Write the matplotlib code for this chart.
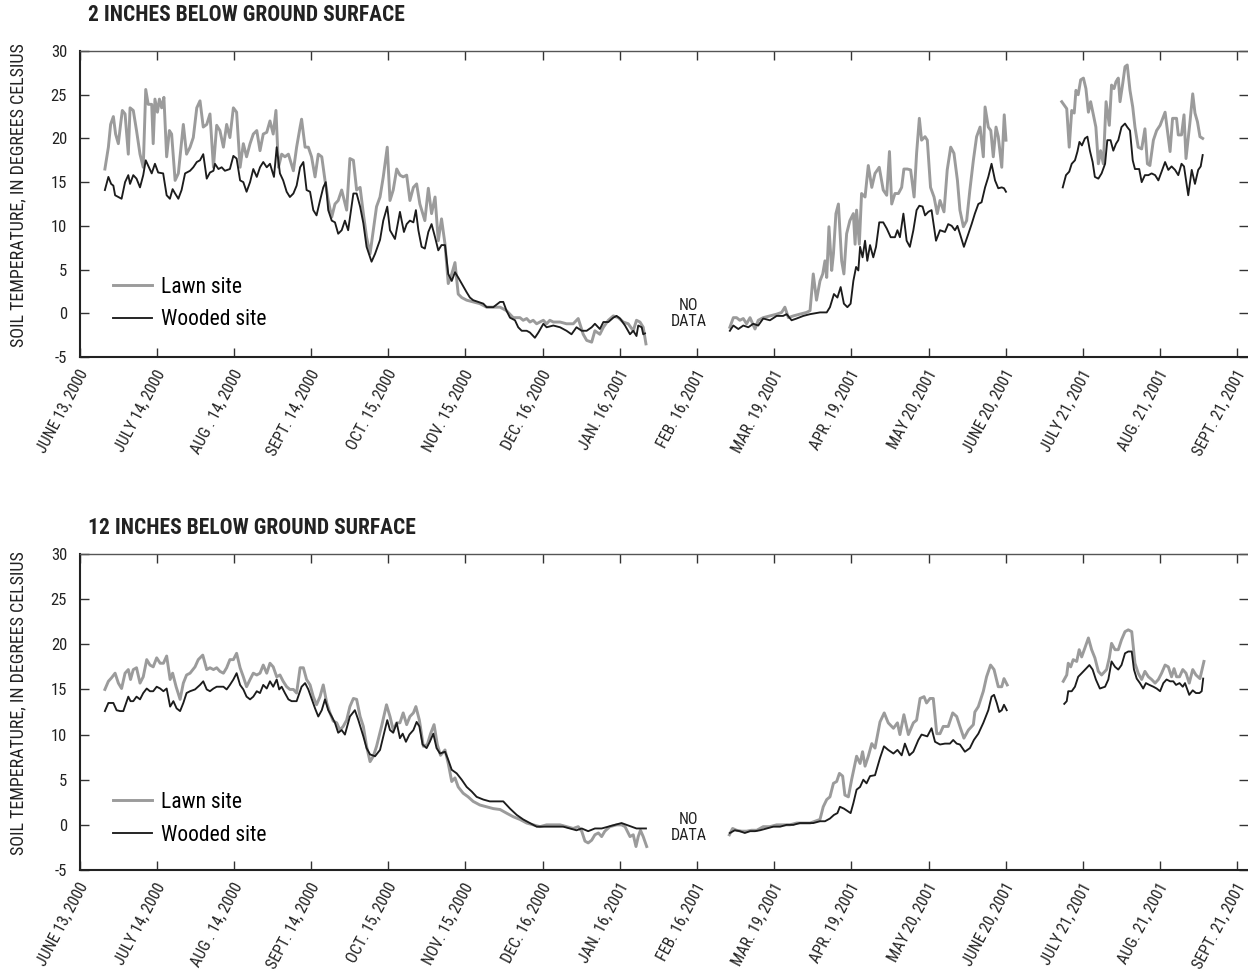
import numpy as np
import matplotlib.pyplot as plt
from matplotlib.transforms import ScaledTranslation

plt.rcParams['font.family'] = ['Roboto Condensed', 'Liberation Sans Narrow', 'Liberation Sans', 'DejaVu Sans']
plt.rcParams['axes.unicode_minus'] = False

# x axis: days after June 13, 2000
tick_days = np.arange(0, 466, 31)
tick_labels = ['JUNE 13, 2000', 'JULY 14, 2000', 'AUG . 14, 2000', 'SEPT. 14, 2000',
               'OCT. 15, 2000', 'NOV. 15, 2000', 'DEC. 16, 2000', 'JAN. 16, 2001',
               'FEB. 16, 2001', 'MAR. 19, 2001', 'APR. 19, 2001', 'MAY 20, 2001',
               'JUNE 20, 2001', 'JULY 21, 2001', 'AUG. 21, 2001', 'SEPT. 21, 2001']
gap_days = [244.5, 383.0]

# ---- 2 inches, lawn site (three segments with data gaps between) ----
top_lawn_days = [
    [10.2, 11.6, 12.5, 13.6, 14.5, 15.6, 16.5, 17.2, 18.3, 19.6, 20.3, 21.6, 22.9, 24.3, 25.6,
     26.6, 27.6, 29.0, 29.6, 30.3, 31.3, 32.1, 33.0, 33.9, 35.0, 36.1, 37.0, 38.4, 39.7, 41.0,
     41.7, 43.0, 44.4, 45.7, 47.1, 48.4, 49.7, 51.1, 52.4, 53.8, 55.1, 56.4, 57.8, 59.1, 60.4,
     61.8, 63.1, 64.5, 65.8, 67.1, 68.5, 69.8, 71.2, 72.5, 73.8, 75.2, 76.5, 77.8, 78.9, 79.9,
     81.2, 82.5, 83.9, 85.9, 87.2, 88.6, 89.2, 90.6, 91.9, 93.2, 94.6, 95.9, 97.3, 98.6, 99.9,
     101.3, 102.6, 103.9, 105.3, 107.3, 108.6, 110.0, 111.3, 112.7, 114.0, 115.3, 116.7, 118.0,
     119.3, 120.7, 122.0, 123.6, 124.7, 126.0, 127.4,
     128.7, 130.0, 131.4, 132.7, 134.1, 135.4, 136.7, 138.7, 140.1, 141.4, 142.8, 144.1, 145.4,
     146.8, 148.1, 149.5, 150.8, 152.1, 153.5, 155.5, 158.1, 160.8, 163.5, 166.2, 168.9, 171.5,
     174.2, 176.9, 178.2, 179.6, 180.9, 182.2, 183.6, 184.9, 186.3, 187.6, 188.9, 190.3, 193.0,
     195.6, 198.3, 200.3, 202.3, 203.7, 205.7, 207.0, 209.0, 210.4, 212.4, 214.4, 216.4, 218.4,
     220.4, 222.4, 223.7, 225.1, 226.4, 227.5],
    [261.2, 262.6, 263.9, 265.2, 266.6, 267.9, 269.3, 271.3, 272.6, 274.6, 277.3, 280.0, 282.0,
     283.3, 284.7, 286.7, 289.3, 292.0, 293.4, 294.7, 296.0,
     297.4, 298.5, 299.4, 300.1, 301.0, 302.1, 302.8, 303.8, 304.8, 306.1, 307.0, 308.1, 309.4,
     310.8, 311.5, 312.1, 313.2, 314.1, 315.5, 316.8, 318.2, 319.5, 321.2, 322.8, 324.2, 325.3,
     326.2, 327.5, 328.9, 330.2, 331.1, 332.5, 333.8, 335.2, 336.2, 337.3, 338.2, 339.6, 340.5,
     341.8, 343.2, 344.5, 345.6, 347.2, 348.5, 349.9, 351.2, 352.6, 353.6, 355.0, 356.3, 357.6,
     359.0, 360.3, 361.7, 363.0, 363.7, 365.0, 366.0, 367.0, 368.1, 369.0, 370.4, 371.4, 372.1],
    [394.5, 396.5, 397.5, 398.5, 399.5, 400.2, 401.1, 402.1, 403.2, 404.2, 405.2, 406.1, 407.2,
     408.2, 409.2, 410.1, 411.2, 412.3, 413.6, 414.5, 415.5, 416.3, 417.2, 417.9, 419.0, 419.9,
     420.8, 421.9, 423.0, 423.9, 425.2, 426.6, 427.9, 428.9, 429.9, 431.3, 432.6, 434.0, 436.0,
     438.0, 439.0, 440.6, 441.3, 442.6, 443.6, 444.4, 446.0, 447.1, 448.0, 449.0, 450.0, 451.1],
]
top_lawn_temp = [
    [16.5, 19, 21.6, 22.5, 20.5, 19.4, 21.6, 23.2, 22.8, 18.2, 23.5, 23.2, 20.9, 18.2, 16.7,
     25.6, 23.9, 23.9, 19.4, 24.5, 23, 24.5, 23.5, 24.7, 17.9, 20.9, 20.5, 15.2, 16, 19.7,
     21.6, 18.2, 19, 20.1, 23.5, 24.3, 21.3, 21.6, 22.8, 16.7, 21.5, 20.9, 19, 21.6, 20.1,
     23.5, 23, 16.7, 19.4, 17.9, 19.4, 20.5, 20.9, 18.6, 20.5, 20.7, 22, 20.5, 23.2, 16.7,
     18.2, 17.9, 18.2, 16.3, 19, 21.3, 22.2, 19, 19, 17.9, 15.6, 18.2, 17.9, 15.2, 12.9,
     11, 12.5, 12.9, 14.1, 11.8, 17.7, 17.5, 14.1, 14.4, 11.4, 8.7, 6.8, 9.5,
     12.2, 13.3, 15.6, 19, 12.9, 14.1, 16.5,
     15.8, 15.6, 15.8, 12.9, 14.4, 14.8, 12.5, 10.6, 14.3, 11.4, 13.3, 8.3, 10.8,
     7.9, 3.4, 4.5, 5.8, 2.2, 1.8, 1.5, 1.3, 1.1, 0.7, 0.7, 0.7, 0.3,
     -0.5, -0.5, -0.8, -0.6, -1.0, -0.8, -1.2, -1.0, -0.8, -1.2, -0.8, -1.0, -1.0,
     -1.2, -1.2, -0.6, -2.4, -3.1, -3.3, -2.0, -2.4, -1.6, -0.8, -0.3, -0.5, -1.0,
     -1.2, -2.0, -0.8, -1.0, -1.6, -3.5],
    [-1.6, -0.5, -0.5, -0.8, -0.6, -1.2, -0.5, -1.8, -0.8, -0.5, -0.3, -0.1, 0.1,
     0.7, -0.5, -0.3, -0.1, 0.1, 0.3, 4.5, 1.5,
     3.7, 4.5, 6.0, 4.1, 9.9, 4.9, 6.8, 11.4, 12.5, 6.0, 4.5, 9.1, 10.6,
     11.4, 7.9, 11.8, 7.9, 13.7, 13.3, 16.9, 14.4, 16.0, 16.7, 14.1, 13.5, 18.5,
     12.5, 13.7, 13.7, 14.4, 16.5, 16.5, 16.4, 13.3, 18.3, 22.3, 19.8, 20.2, 19.8,
     14.4, 13.3, 11.4, 12.9, 11.6, 16.4, 19.0, 18.3, 15.2, 11.8, 9.9, 10.6, 14.1,
     17.5, 20.2, 21.3, 17.9, 23.6, 21.3, 20.9, 17.9, 21.3, 20.2, 16.7, 22.7, 19.8],
    [24.2, 23.4, 19.0, 23.2, 22.9, 25.5, 25.0, 26.7, 26.9, 25.7, 23.0, 24.2, 22.7,
     21.3, 17.1, 18.6, 17.1, 24.2, 21.5, 26.1, 25.7, 26.5, 26.9, 24.2, 26.3, 28.2,
     28.4, 25.5, 23.6, 21.3, 19.0, 18.8, 21.1, 17.1, 16.9, 19.8, 20.9, 21.5, 23.0,
     18.5, 22.3, 22.3, 20.4, 20.4, 22.7, 17.7, 21.9, 25.1, 22.9, 21.9, 20.2, 20.0],
]

# ---- 2 inches, wooded site ----
top_wood_days = [
    [10.2, 11.6, 12.7, 13.6, 14.3, 15.6, 16.9, 18.3, 19.6, 20.3, 21.6, 22.9, 24.3, 25.6, 26.6,
     27.9, 29.0, 30.3, 31.6, 33.6, 35.0, 36.3, 37.4, 38.4, 39.7, 41.0, 42.4, 44.4, 45.7, 47.1,
     48.4, 49.7, 51.1, 52.4, 53.8, 54.4, 55.8, 57.1, 58.4, 60.4, 61.8, 63.1, 64.5, 65.8, 67.1,
     68.5, 69.8, 71.2, 72.5, 73.8, 75.2, 76.5, 78.1, 79.2, 80.5, 81.8, 83.2, 84.5, 85.9, 87.2,
     88.6, 89.9, 91.2, 92.6, 93.9, 95.2, 96.6, 97.9, 98.9, 99.9, 101.3, 102.6, 103.9, 105.3,
     106.6, 107.9, 110.0, 111.3, 112.7, 114.0, 115.3, 117.3, 118.7, 120.7, 122.0, 123.6, 124.7,
     126.7,
     128.7, 129.4, 130.3, 131.4, 132.7, 134.1, 135.1, 136.1, 137.4, 138.7, 140.1, 141.4, 142.8,
     144.1, 145.4, 146.8, 148.1, 149.5, 150.8, 152.1, 153.5, 155.5, 156.8, 158.1, 160.2, 162.2,
     163.5, 166.2, 168.9, 170.2, 171.5, 172.9, 174.9, 176.2, 177.6, 179.6, 180.9, 182.9, 184.3,
     186.3, 187.6, 190.3, 193.0, 195.6, 197.6, 199.6, 201.7, 203.7, 205.7, 207.0, 209.0, 210.4,
     212.4, 214.4, 215.7, 217.1, 219.1, 221.1, 222.4, 223.7, 224.4, 225.8, 226.4, 227.1],
    [261.2, 262.6, 264.6, 266.6, 268.6, 270.6, 272.6, 274.6, 277.3, 280.0, 282.6, 284.0, 286.0,
     288.0, 290.7, 293.4,
     297.4, 300.1, 301.4, 303.0, 304.4, 305.7, 307.0, 308.4, 309.7, 310.8, 311.9, 312.8, 313.5,
     314.5, 315.5, 316.4, 317.5, 318.8, 319.9, 321.2, 322.8, 324.2, 325.8, 327.5, 328.5, 329.5,
     330.9, 332.2, 333.5, 334.9, 336.2, 337.3, 338.6, 339.6, 340.9, 342.2, 344.0, 345.6, 347.6,
     348.9, 350.3, 351.6, 352.6, 353.6, 355.2, 357.0, 358.3, 359.6, 361.0, 362.3, 363.7, 365.0,
     366.3, 367.7, 369.0, 370.4, 371.3, 372.1],
    [394.9, 396.2, 397.5, 398.5, 399.8, 400.8, 401.6, 402.6, 403.8, 404.8, 405.8, 406.9, 407.8,
     409.2, 410.5, 411.9, 412.8, 414.1, 415.2, 416.3, 417.2, 418.5, 419.9, 420.8, 421.9, 423.0,
     423.9, 425.6, 426.6, 427.9, 429.3, 430.6, 432.0, 433.3, 434.6, 436.0, 437.3, 438.6, 440.0,
     441.3, 442.6, 443.6, 445.3, 446.7, 448.0, 449.3, 450.3, 451.1],
]
top_wood_temp = [
    [14.1, 15.6, 14.8, 14.6, 13.5, 13.3, 13.1, 15, 15.8, 14.8, 15.8, 15.4, 14.4, 15.8, 17.5,
     16.7, 16, 17.1, 16.1, 16, 13.5, 13.1, 14.2, 13.7, 13.1, 14.1, 16, 16.3, 16.7, 17.3,
     17.5, 18.2, 15.4, 16.1, 16.3, 17.1, 16.5, 16.7, 16.3, 16.5, 18, 17.7, 15.2, 15, 13.9,
     15, 16.5, 15.6, 16.7, 17.3, 16.7, 17.1, 15.6, 19, 16, 15.2, 13.9, 13.3, 13.7, 14.6,
     16.7, 17.3, 14.1, 13.9, 11.8, 11.2, 12.9, 14.4, 15, 11.8, 10.6, 10.4, 9.1, 9.5,
     10.6, 9.5, 13.7, 13.7, 12.2, 10.3, 7.6, 5.9, 6.8, 8.4, 10.6, 12.2, 9.5,
     8.5,
     11.6, 10.6, 9.3, 10.2, 10.6, 10.4, 11.8, 9.5, 7.6, 7.4, 9.3, 10.2, 8.7,
     7.2, 7.8, 7.8, 4.5, 3.7, 4.7, 4.1, 3.4, 2.4, 1.8, 1.5, 1.3, 1.1,
     0.7, 0.7, 1.3, 1.3, 0.3, -0.5, -0.8, -1.6, -2.0, -2.0, -2.2, -2.8, -2.2,
     -1.2, -1.6, -1.4, -1.6, -2.0, -2.4, -1.6, -2.0, -2.0, -1.6, -1.2, -1.8, -1.0,
     -1.0, -0.5, -0.3, -0.6, -1.4, -2.4, -2.0, -2.6, -1.4, -1.6, -2.4, -2.3],
    [-2.0, -1.4, -1.8, -1.4, -1.6, -1.2, -1.4, -0.6, -0.8, -0.3, -0.3, -0.1, -0.8,
     -0.6, -0.3, -0.1,
     0.1, 0.1, 0.7, 2.2, 1.8, 3.0, 1.1, 0.7, 1.1, 3.7, 5.3, 4.9, 7.6,
     6.4, 8.3, 6.0, 7.8, 6.4, 7.6, 10.4, 10.4, 9.7, 8.7, 8.7, 9.5, 8.7,
     11.4, 8.3, 7.6, 9.5, 11.8, 12.3, 12.2, 11.2, 11.6, 11.8, 8.3, 9.5, 9.3,
     10.2, 10.0, 9.5, 10.0, 9.1, 7.6, 9.1, 10.2, 11.4, 12.5, 12.7, 14.4, 15.6,
     17.1, 15.2, 14.3, 14.4, 14.3, 13.9],
    [14.4, 15.8, 16.2, 17.1, 17.5, 18.5, 19.6, 19.2, 20.0, 20.2, 18.6, 17.3, 15.6,
     15.4, 16.0, 17.1, 19.8, 19.8, 18.6, 19.4, 19.8, 21.3, 21.7, 21.3, 20.9, 17.5,
     16.5, 16.5, 15.0, 15.8, 15.8, 16.0, 15.8, 15.2, 16.2, 17.3, 16.4, 16.8, 16.4,
     15.8, 17.1, 16.8, 13.5, 16.4, 14.8, 16.4, 16.8, 18.1],
]

# ---- 12 inches, lawn site ----
bot_lawn_days = [
    [10.2, 11.6, 12.9, 14.3, 15.6, 16.9, 18.3, 19.6, 20.5, 21.6, 22.9, 24.3, 25.6, 27.0, 28.3,
     29.6, 31.0, 32.4, 33.7, 35.0, 36.4, 37.4, 38.8, 40.4, 41.7, 43.0, 44.4, 46.4, 47.7, 49.5,
     51.1, 52.4, 53.8, 55.1, 56.4, 57.8, 59.1, 60.4, 61.8, 63.1, 64.5, 65.8, 67.1, 68.5, 69.8,
     71.2, 72.5, 73.8, 75.2, 76.5, 77.8, 79.2, 80.5, 81.8, 83.2, 84.5, 85.9, 87.2, 88.6, 89.9,
     91.2, 92.6, 93.9, 95.2, 96.6, 97.9, 99.3, 100.6, 101.9, 103.3, 104.6, 105.9, 107.3, 108.6,
     110.0, 111.3, 112.7, 114.0, 115.3, 116.7, 118.0, 119.3, 121.3, 123.3, 124.7, 126.0, 127.4,
     128.7, 130.0, 131.4, 132.7, 134.1, 135.1, 136.5, 138.1, 139.7, 141.0, 142.4, 143.7, 145.0,
     146.8, 148.1, 149.5, 150.8, 152.1, 154.1, 156.1, 158.1, 160.8, 163.5, 166.2, 168.9, 171.5,
     174.2, 176.9, 179.6, 182.2, 184.9, 187.6, 190.3, 193.0, 195.6, 198.3, 200.3, 201.7, 203.0,
     204.3, 205.7, 207.0, 208.4, 209.7, 211.0, 213.0, 215.7, 217.7, 219.1, 221.1, 222.4, 223.5,
     224.4, 225.3, 226.4, 227.8],
    [261.0, 262.3, 263.9, 265.9, 267.9, 269.9, 272.0, 274.6, 277.3, 280.0, 282.6, 285.3, 288.0,
     290.7, 293.4,
     297.4, 298.7, 300.1, 301.4, 302.8, 304.1, 305.2, 306.5, 307.4, 308.8, 310.1, 312.1, 313.5,
     314.5, 315.5, 316.8, 318.2, 319.5, 321.5, 323.2, 324.8, 326.9, 328.5, 329.5, 331.1, 332.9,
     334.9, 336.2, 337.6, 339.2, 340.2, 341.6, 342.9, 344.3, 345.6, 346.9, 348.9, 350.7, 352.3,
     353.6, 355.2, 357.0, 359.0, 359.6, 361.0, 363.0, 364.3, 365.9, 367.3, 369.0, 370.4, 371.3,
     372.6],
    [395.1, 396.5, 397.1, 398.1, 399.1, 400.5, 401.5, 402.5, 403.8, 405.2, 406.5, 407.8, 409.2,
     410.5, 412.5, 413.6, 414.5, 415.9, 417.2, 418.5, 419.9, 421.2, 422.6, 423.9, 425.2, 426.6,
     427.9, 429.3, 430.6, 432.0, 433.3, 434.6, 436.0, 437.3, 438.6, 439.6, 440.6, 441.8, 443.1,
     444.4, 445.7, 447.1, 448.4, 450.0, 451.6],
]
bot_lawn_temp = [
    [15.0, 15.9, 16.3, 16.8, 15.7, 15.1, 16.8, 17.2, 16.1, 17.2, 17.4, 15.7, 16.4, 18.3, 17.7,
     17.5, 18.5, 17.9, 17.9, 18.7, 16.1, 16.8, 15.3, 13.9, 15.7, 16.6, 16.8, 17.5, 18.3, 18.8,
     17.2, 17.4, 17.2, 17.4, 17.0, 16.8, 17.4, 18.3, 18.3, 19.0, 17.4, 16.4, 15.3, 16.1, 16.8,
     16.6, 16.8, 17.7, 16.8, 17.9, 17.5, 16.4, 16.6, 15.9, 15.3, 15.0, 15.0, 14.6, 17.4, 17.4,
     16.1, 15.5, 14.2, 13.3, 14.2, 15.5, 13.5, 12.4, 11.5, 11.3, 10.5, 10.9, 11.6, 13.1,
     14.0, 13.9, 12.0, 10.9, 8.7, 7.0, 7.6, 8.7, 10.9, 13.3, 12.0, 10.5, 11.3,
     11.3, 12.4, 11.1, 12.0, 12.4, 13.1, 11.6, 8.7, 8.9, 10.1, 11.1, 8.9, 7.7,
     8.3, 6.8, 4.8, 5.2, 4.2, 3.5, 3.1, 2.6, 2.2, 2.0, 1.8, 1.7, 1.3,
     0.9, 0.6, 0.2, 0.0, -0.2, 0.0, 0.0, 0.0, -0.2, -0.4, -0.2, -0.7, -1.8,
     -2.0, -1.7, -1.1, -0.9, -1.3, -0.7, -0.2, 0.0, 0.0, -0.2, -1.3, -1.1, -2.4,
     -1.3, -0.6, -1.3, -2.4],
    [-1.1, -0.4, -0.6, -0.7, -0.7, -0.6, -0.6, -0.2, -0.2, 0.0, 0.0, 0.0, 0.2,
     0.2, 0.2,
     0.6, 2.0, 2.8, 3.1, 4.6, 4.8, 5.7, 5.4, 3.3, 3.1, 5.0, 7.6, 6.8,
     8.1, 6.5, 7.6, 9.0, 8.5, 11.4, 12.4, 11.3, 10.7, 11.3, 10.0, 12.2, 10.0,
     11.3, 11.6, 14.0, 14.2, 13.5, 14.0, 14.0, 10.1, 10.1, 10.9, 10.9, 12.4, 12.0,
     10.9, 9.6, 10.5, 11.1, 12.5, 13.1, 14.8, 16.4, 17.7, 17.2, 15.3, 15.3, 16.2,
     15.5],
    [15.9, 16.6, 17.9, 17.5, 18.3, 18.1, 19.4, 18.6, 19.6, 20.7, 19.4, 18.5, 17.0,
     16.6, 17.2, 18.5, 20.1, 19.4, 19.4, 20.5, 21.4, 21.6, 21.4, 17.9, 16.8, 16.1,
     17.0, 16.4, 16.1, 15.7, 16.1, 16.8, 17.7, 17.5, 16.4, 17.3, 16.4, 16.4, 17.2,
     16.8, 15.7, 17.2, 16.6, 16.2, 18.1],
]

# ---- 12 inches, wooded site ----
bot_wood_days = [
    [10.2, 11.6, 13.6, 14.9, 16.3, 17.6, 19.6, 20.5, 21.6, 22.9, 24.3, 25.6, 27.0, 28.3, 29.6,
     31.0, 32.4, 33.7, 35.0, 36.4, 37.7, 39.0, 40.4, 41.7, 43.0, 44.4, 46.4, 48.4, 49.7, 51.1,
     52.4, 53.8, 55.1, 57.8, 59.1, 60.4, 61.8, 63.1, 64.5, 65.8, 67.1, 68.5, 69.8, 71.2, 72.5,
     73.8, 75.2, 76.5, 77.8, 79.2, 80.2, 81.2, 82.5, 83.9, 85.2, 87.2, 89.2, 90.6, 91.9, 93.2,
     94.6, 95.9, 97.3, 98.6, 99.9, 101.3, 102.6, 103.9, 105.3, 106.6, 108.6, 110.6, 112.0,
     114.0, 115.3, 116.7, 118.7, 120.7, 122.0, 123.6, 124.7, 126.0, 127.4,
     128.7, 129.8, 131.1, 132.5, 134.1, 135.4, 136.5, 137.8, 139.4, 140.7, 142.1, 143.4, 144.8,
     146.8, 148.1, 149.5, 151.5, 153.5, 155.5, 157.5, 159.5, 162.2, 164.8, 167.5, 170.2, 172.9,
     175.6, 178.2, 180.9, 183.6, 186.3, 190.3, 194.3, 197.0, 199.6, 201.7, 204.3, 207.0, 209.7,
     212.4, 215.0, 217.7, 219.7, 221.7, 223.7, 225.8, 227.5],
    [261.2, 263.2, 265.2, 267.2, 269.3, 271.3, 273.3, 276.0, 278.6, 281.4, 284.0, 286.7, 289.3,
     292.0, 294.7,
     297.4, 299.4, 301.4, 303.0, 304.4, 305.4, 307.0, 309.7, 310.8, 312.1, 313.5, 314.8, 316.1,
     317.5, 319.5, 321.5, 323.1, 324.8, 326.9, 328.5, 330.2, 331.5, 333.3, 334.9, 336.9, 338.2,
     340.5, 342.2, 343.6, 345.6, 347.6, 349.6, 350.9, 352.3, 353.6, 355.6, 357.6, 359.2, 361.0,
     363.0, 365.0, 366.3, 367.3, 368.4, 369.4, 370.4, 371.3, 372.4],
    [395.5, 396.5, 397.1, 398.5, 399.8, 401.1, 403.2, 405.6, 406.9, 408.2, 409.8, 411.9, 413.2,
     414.5, 415.9, 417.2, 418.5, 419.9, 421.2, 422.6, 423.5, 424.6, 425.9, 427.2, 428.3, 429.7,
     431.3, 432.6, 434.0, 435.3, 436.6, 438.0, 439.3, 440.4, 441.8, 443.1, 444.0, 445.7, 447.1,
     448.4, 449.8, 450.7, 451.3],
]
bot_wood_temp = [
    [12.6, 13.5, 13.5, 12.7, 12.6, 12.6, 14.2, 13.7, 13.7, 14.2, 13.9, 14.6, 15.1, 14.8, 14.8,
     15.3, 15.1, 14.8, 15.1, 13.1, 13.7, 12.9, 12.6, 13.5, 14.6, 14.8, 15.0, 15.5, 15.9, 15.0,
     14.8, 15.1, 15.3, 15.3, 15.0, 15.5, 16.1, 16.8, 15.5, 15.0, 14.2, 13.9, 14.2, 14.8, 14.6,
     15.5, 15.1, 15.9, 15.3, 16.1, 15.0, 15.3, 14.6, 13.9, 13.7, 13.7, 15.3, 15.7, 15.0, 14.0,
     12.9, 12.0, 12.7, 13.9, 12.7, 12.0, 11.3, 10.2, 10.5, 10.0, 12.0, 12.7, 11.6,
     9.8, 8.5, 7.8, 7.6, 8.3, 9.8, 11.6, 10.5, 10.2, 11.3,
     9.6, 10.1, 9.2, 10.0, 10.5, 11.4, 10.9, 8.9, 8.5, 9.2, 10.1, 8.5, 7.9,
     8.1, 7.2, 6.1, 5.7, 5.0, 4.2, 3.7, 3.1, 2.8, 2.6, 2.6, 2.6, 1.8,
     1.1, 0.6, 0.2, -0.2, -0.2, -0.2, -0.2, -0.4, -0.6, -0.4, -0.7, -0.4, -0.4,
     -0.2, 0.0, 0.2, 0.0, -0.2, -0.4, -0.4, -0.4],
    [-0.9, -0.6, -0.7, -0.9, -0.7, -0.7, -0.6, -0.4, -0.2, -0.2, 0.0, 0.0, 0.2,
     0.2, 0.2,
     0.4, 0.4, 0.7, 1.1, 1.3, 2.0, 1.8, 1.3, 2.4, 3.9, 4.2, 5.0, 4.6,
     5.4, 5.5, 7.4, 8.7, 8.3, 7.9, 8.3, 7.7, 9.0, 7.7, 8.1, 9.4, 10.0,
     9.8, 10.7, 9.2, 8.9, 9.0, 9.0, 9.4, 9.0, 8.9, 8.1, 8.5, 9.4, 10.1,
     11.3, 12.7, 14.2, 14.4, 13.5, 12.5, 12.7, 13.3, 12.7],
    [13.4, 13.7, 14.8, 14.8, 15.3, 16.4, 17.0, 17.7, 17.2, 16.1, 15.1, 15.3, 16.1,
     18.1, 17.5, 17.2, 17.7, 19.0, 19.2, 19.2, 17.2, 16.2, 15.7, 15.1, 15.7, 15.5,
     15.3, 15.1, 14.8, 15.7, 16.1, 15.9, 15.9, 15.5, 15.7, 15.3, 15.7, 14.4, 14.9,
     14.6, 14.6, 14.8, 16.2],
]

LAWN = '#9b9b9b'
WOOD = '#1c1c1c'
W, H = 1248, 974


def draw_panel(ax, lawn_days, lawn_temp, wood_days, wood_temp, legend_y, nodata_y):
    for i, (d, t) in enumerate(zip(lawn_days, lawn_temp)):
        ax.plot(d, t, color=LAWN, lw=2.1, label='Lawn site' if i == 0 else None)
    for i, (d, t) in enumerate(zip(wood_days, wood_temp)):
        ax.plot(d, t, color=WOOD, lw=1.35, label='Wooded site' if i == 0 else None)

    ax.set_xlim(0, 469.3)
    ax.set_ylim(-5, 30)
    ax.set_yticks(range(-5, 31, 5))
    ax.set_xticks(tick_days)
    ax.set_xticklabels(tick_labels, rotation=62, ha='right', va='center',
                       rotation_mode='anchor', fontsize=11.5)
    ax.tick_params(direction='in', top=True, right=True, length=6.5, width=1,
                   color='#333333', labelcolor='#222222')
    ax.tick_params(axis='y', labelsize=12, pad=9)
    ax.tick_params(axis='x', pad=10)
    off = ScaledTranslation(0.045, 0, ax.figure.dpi_scale_trans)
    for lab in ax.get_xticklabels():
        lab.set_transform(lab.get_transform() + off)

    for side in ['left', 'bottom']:
        ax.spines[side].set_linewidth(1.5)
        ax.spines[side].set_color('#222222')
    ax.spines['top'].set_linewidth(1.0)
    ax.spines['top'].set_color('#555555')
    ax.spines['right'].set_visible(False)

    ax.legend(loc='upper left', bbox_to_anchor=(0.0287, legend_y), frameon=False,
              fontsize=15.5, handlelength=1.8, handletextpad=0.42, labelspacing=0.55,
              borderpad=0, borderaxespad=0)
    ax.text(gap_days[0], nodata_y, 'NO\nDATA', ha='center', va='center',
            fontsize=11.5, linespacing=1.1, color='#222222')


fig = plt.figure(figsize=(W / 100, H / 100), dpi=100)
ax_top = fig.add_axes([79.5 / W, 1 - 357 / H, 1 - 79.5 / W, (357 - 51) / H])
ax_bot = fig.add_axes([79.5 / W, 1 - 870 / H, 1 - 79.5 / W, (870 - 554) / H])

draw_panel(ax_top, top_lawn_days, top_lawn_temp, top_wood_days, top_wood_temp, 0.263, 0.0)
draw_panel(ax_bot, bot_lawn_days, bot_lawn_temp, bot_wood_days, bot_wood_temp, 0.247, -0.3)

fig.text(88 / W, 1 - 15 / H, '2 INCHES BELOW GROUND SURFACE', fontsize=15.5,
         fontweight='bold', va='center', ha='left', color='#222222')
fig.text(88 / W, 1 - 528 / H, '12 INCHES BELOW GROUND SURFACE', fontsize=15.5,
         fontweight='bold', va='center', ha='left', color='#222222')
ylab = 'SOIL TEMPERATURE, IN DEGREES CELSIUS'
fig.text(18 / W, 1 - 195 / H, ylab, rotation=90, ha='center', va='center',
         fontsize=13, color='#222222')
fig.text(18 / W, 1 - 703 / H, ylab, rotation=90, ha='center', va='center',
         fontsize=13, color='#222222')

fig.savefig('out.png', dpi=100)
